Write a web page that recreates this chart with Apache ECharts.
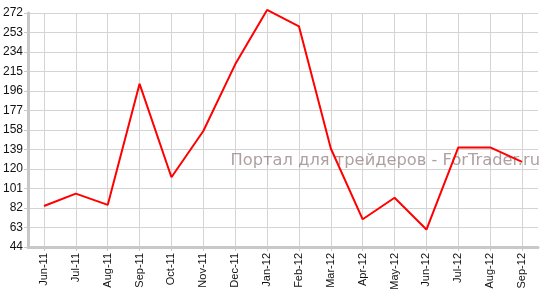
<!DOCTYPE html>
<html><head><meta charset="utf-8">
<script src="https://cdn.jsdelivr.net/npm/echarts@6/dist/echarts.min.js"></script>
<style>html,body{margin:0;padding:0;background:#fff}#c{width:547px;height:300px}</style>
</head><body><div id="c"></div>
<script>
const categories = ['Jun-11','Jul-11','Aug-11','Sep-11','Oct-11','Nov-11','Dec-11','Jan-12','Feb-12','Mar-12','Apr-12','May-12','Jun-12','Jul-12','Aug-12','Sep-12'];
const values = [84, 96, 85, 203, 112, 157, 222, 275, 259, 140, 71, 92, 61, 141, 141, 127];
const yMin = 44, yMax = 272, yStep = 19;
const watermark = 'Портал для трейдеров - ForTrader.ru';

const chart = echarts.init(document.getElementById('c'));
chart.setOption({
  animation: false,
  grid: {left: 28, right: 9, top: 13, bottom: 53, containLabel: false},
  xAxis: {
    type: 'category', data: categories, boundaryGap: true,
    axisLine: {lineStyle: {color: '#c8c8c8', width: 3}},
    axisTick: {show: true, alignWithLabel: true, length: 4, lineStyle: {color: '#c8c8c8'}},
    splitLine: {show: true, alignWithLabel: true, lineStyle: {color: '#d4d4d4', width: 1}},
    axisLabel: {rotate: 90, fontFamily: 'Liberation Sans, Arial, sans-serif', fontSize: 11, color: '#111', margin: 6, interval: 0}
  },
  yAxis: {
    type: 'value', min: yMin, max: yMax, interval: yStep,
    axisLine: {show: true, lineStyle: {color: '#c8c8c8', width: 3}},
    axisTick: {show: true, length: 4, lineStyle: {color: '#c8c8c8'}},
    splitLine: {show: true, lineStyle: {color: '#d4d4d4', width: 1}},
    axisLabel: {fontFamily: 'Liberation Sans, Arial, sans-serif', fontSize: 12, color: '#111', margin: 5}
  },
  graphic: [{
    type: 'text', right: 7, top: 153, z: 1,
    style: {text: watermark, fontFamily: 'DejaVu Sans', fontSize: 16.3, fill: 'rgba(140,120,120,0.7)'}
  }],
  series: [{
    type: 'line', data: values, symbol: 'none', clip: false, z: 3,
    lineStyle: {color: '#ff0000', width: 2}
  }]
});
</script></body></html>
